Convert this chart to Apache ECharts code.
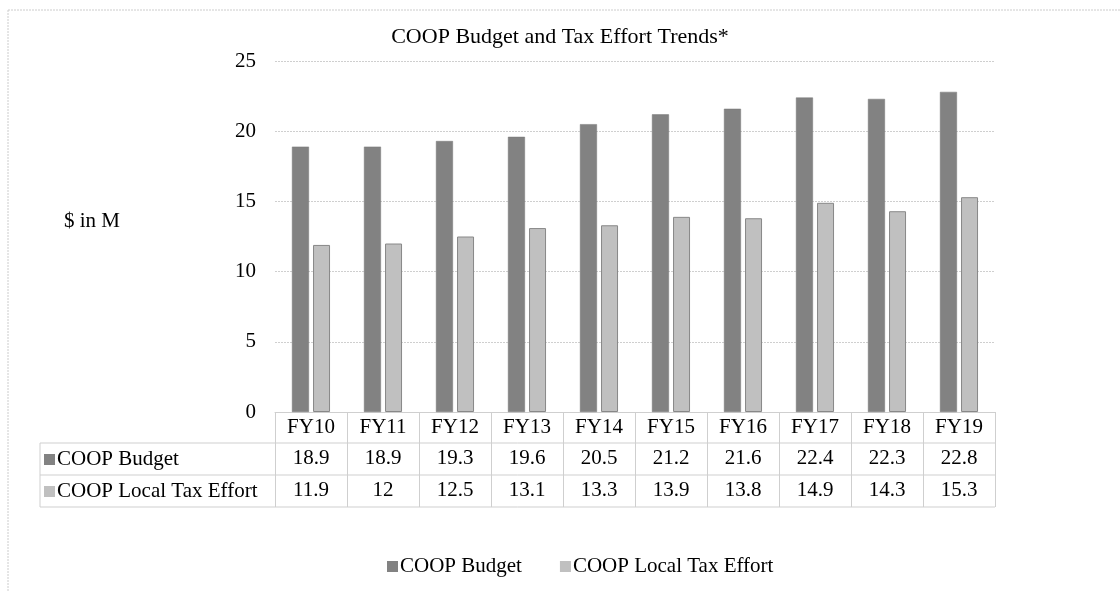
<!DOCTYPE html>
<html>
<head>
<meta charset="utf-8">
<script src="https://cdn.jsdelivr.net/npm/echarts@6/dist/echarts.min.js"></script>
<style>
  html, body { margin: 0; padding: 0; background: #fff; }
  #chart { width: 1120px; height: 592px; }
</style>
</head>
<body>
<div id="chart"></div>
<script>
// chart data
const years = ['FY10', 'FY11', 'FY12', 'FY13', 'FY14', 'FY15', 'FY16', 'FY17', 'FY18', 'FY19'];
const budget = [18.9, 18.9, 19.3, 19.6, 20.5, 21.2, 21.6, 22.4, 22.3, 22.8];
const taxEffort = [11.9, 12, 12.5, 13.1, 13.3, 13.9, 13.8, 14.9, 14.3, 15.3];
const seriesNames = ['COOP Budget', 'COOP Local Tax Effort'];
const yTicks = [0, 5, 10, 15, 20, 25];

const font = '"Liberation Serif", "DejaVu Serif", serif';
const fs = 21;
const colors = ['#828282', '#c0c0c0'];
const lineColor = '#cfcfcf';

// layout (px)
const gridLeft = 275, gridRight = 995, gridTop = 61, gridBottom = 412;
const rowH = 32;
const tableLeft = 40;

const chart = echarts.init(document.getElementById('chart'), null, { renderer: 'canvas' });

// table rows below the FY row: one axis per series, labelled by its values
const valueAxis = (vals, idx) => ({
    type: 'category',
    gridIndex: 0,
    position: 'bottom',
    offset: rowH * (idx + 1) - 1,
    data: vals.map(v => String(v)),
    axisLine: { show: false },
    axisTick: { show: false },
    axisLabel: { interval: 0, margin: 5, fontFamily: font, fontSize: fs, color: '#000' }
});

const rowLabel = (name, color, row) => ({
    type: 'group',
    left: tableLeft + 4,
    top: gridBottom + rowH * row + 5,
    children: [
        { type: 'rect', shape: { x: 0, y: 5, width: 11, height: 11 }, style: { fill: color } },
        { type: 'text', x: 13, y: 0, style: { text: name, font: fs + 'px ' + font, fill: '#000' } }
    ]
});

const hLine = y => ({
    type: 'line',
    shape: { x1: tableLeft, y1: y, x2: gridRight, y2: y },
    style: { stroke: lineColor, lineWidth: 1 }
});

chart.setOption({
    animation: false,
    title: {
        text: 'COOP Budget and Tax Effort Trends*',
        left: 'center',
        top: 21,
        textStyle: { fontFamily: font, fontSize: 22, fontWeight: 'normal', color: '#000' }
    },
    legend: {
        data: seriesNames,
        left: 382,
        top: 551,
        icon: 'rect',
        itemWidth: 11,
        itemHeight: 11,
        itemGap: 38,
        itemStyle: { borderWidth: 0 },
        textStyle: { fontFamily: font, fontSize: fs, color: '#000', padding: [0, 0, 0, -3] }
    },
    grid: {
        left: gridLeft,
        right: 1120 - gridRight,
        top: gridTop,
        bottom: 592 - gridBottom,
        containLabel: false
    },
    xAxis: [
        {
            type: 'category',
            data: years,
            position: 'bottom',
            axisLine: { show: true, lineStyle: { color: lineColor } },
            axisTick: { show: true, interval: 0, length: rowH * 3 - 1, lineStyle: { color: lineColor } },
            axisLabel: { interval: 0, margin: 5, fontFamily: font, fontSize: fs, color: '#000' }
        },
        valueAxis(budget, 0),
        valueAxis(taxEffort, 1)
    ],
    yAxis: {
        type: 'value',
        min: yTicks[0],
        max: yTicks[yTicks.length - 1],
        interval: 5,
        axisLine: { show: false },
        axisTick: { show: false },
        axisLabel: { margin: 19, fontFamily: font, fontSize: fs, color: '#000' },
        splitLine: { lineStyle: { color: lineColor, type: [2, 1] } }
    },
    series: [
        {
            name: seriesNames[0],
            type: 'bar',
            data: budget,
            barWidth: 17,
            barGap: '24%',
            itemStyle: { color: colors[0], borderColor: '#777', borderWidth: 0.5 }
        },
        {
            name: seriesNames[1],
            type: 'bar',
            data: taxEffort,
            barWidth: 17,
            itemStyle: { color: colors[1], borderColor: '#888', borderWidth: 1 }
        }
    ],
    graphic: [
        // outer frame (top and left edges visible)
        { type: 'line', shape: { x1: 8, y1: 10, x2: 1120, y2: 10 }, style: { stroke: '#cccccc', lineDash: [2, 1] } },
        { type: 'line', shape: { x1: 8, y1: 10, x2: 8, y2: 592 }, style: { stroke: '#cccccc', lineDash: [2, 1] } },
        { type: 'text', left: 64, top: 211, style: { text: '$ in M', font: fs + 'px ' + font, fill: '#000' } },
        hLine(gridBottom + rowH - 1),
        hLine(gridBottom + rowH * 2 - 1),
        hLine(gridBottom + rowH * 3 - 1),
        {
            type: 'line',
            shape: { x1: tableLeft, y1: gridBottom + rowH - 1, x2: tableLeft, y2: gridBottom + rowH * 3 - 1 },
            style: { stroke: lineColor, lineWidth: 1 }
        },
        rowLabel(seriesNames[0], colors[0], 1),
        rowLabel(seriesNames[1], colors[1], 2)
    ]
});
</script>
</body>
</html>
